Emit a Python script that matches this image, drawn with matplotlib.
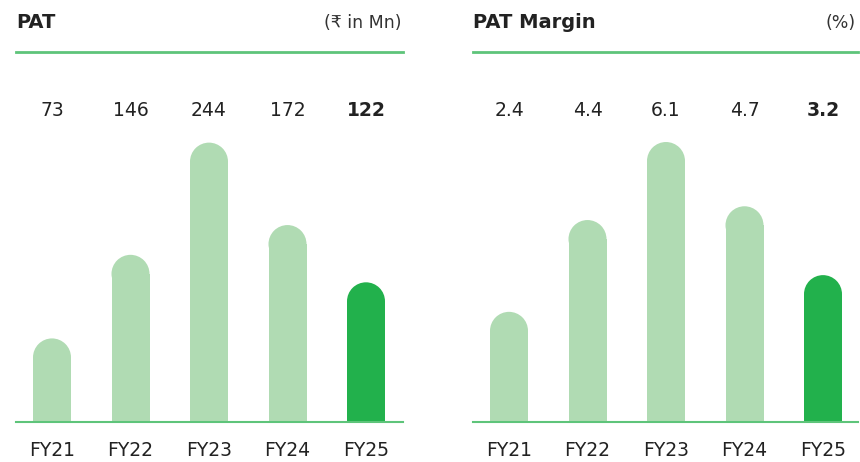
import numpy as np
import matplotlib
matplotlib.use("Agg")
import matplotlib.pyplot as plt
from matplotlib.patches import Rectangle, Ellipse
from matplotlib.lines import Line2D

# data
years = ["FY21", "FY22", "FY23", "FY24", "FY25"]
pat = [73, 146, 244, 172, 122]
pat_labels = ["73", "146", "244", "172", "122"]
margin = [2.4, 4.4, 6.1, 4.7, 3.2]
margin_labels = ["2.4", "4.4", "6.1", "4.7", "3.2"]

light = "#b0dbb3"
dark = "#22b14c"
rule = "#5ec47a"
txt = "#222222"
fam = ["DejaVu Sans"]

W, H = 860, 462
fig = plt.figure(figsize=(W / 100, H / 100), dpi=100)


def px_axes(x0, x1, ytop, ybot):
    return fig.add_axes([x0 / W, 1 - ybot / H, (x1 - x0) / W, (ybot - ytop) / H])


def panel(x0, x1, title, unit, vals, labels, px_per_unit):
    top, base = 100, 422
    ax = px_axes(x0, x1, top, base)
    ymax = (base - top) / px_per_unit
    spacing = 78.5
    first = 36
    ax.set_xlim(-first / spacing, -first / spacing + (x1 - x0) / spacing)
    ax.set_ylim(0, ymax)
    ax.axis("off")
    bw = 38 / spacing
    r_y = 19 / px_per_unit  # cap radius in data units
    for i, v in enumerate(vals):
        c = dark if i == len(vals) - 1 else light
        ax.add_patch(Rectangle((i - bw / 2, 0), bw, v - r_y, color=c, lw=0))
        ax.add_patch(Ellipse((i, v - r_y), bw, 2 * r_y, color=c, lw=0))
        fig.text((x0 + first + i * spacing) / W, 1 - 111 / H, labels[i],
                 ha="center", va="center", fontsize=13.5, color=txt, family=fam,
                 fontweight="bold" if i == len(vals) - 1 else "normal")
        fig.text((x0 + first + i * spacing) / W, 1 - 451 / H, years[i],
                 ha="center", va="center", fontsize=13.5, color=txt, family=fam)
    # baseline and header rule
    fig.add_artist(Line2D([x0 / W, x1 / W], [1 - 422 / H] * 2, color=rule, lw=1.5))
    fig.add_artist(Line2D([x0 / W, x1 / W], [1 - 52 / H] * 2, color=rule, lw=2))
    fig.text(x0 / W, 1 - 23 / H, title, ha="left", va="center", fontsize=14,
             fontweight="bold", color=txt, family=fam)
    fig.text((x1 - 2) / W, 1 - 23 / H, unit, ha="right", va="center", fontsize=12.5,
             color="#333333", family=fam)


panel(16, 403, "PAT", "(\u20b9 in Mn)", pat, pat_labels, 1.145)
panel(473, 858, "PAT Margin", "(%)", margin, margin_labels, 45.9)

fig.savefig("out.png", dpi=100, facecolor="white")
